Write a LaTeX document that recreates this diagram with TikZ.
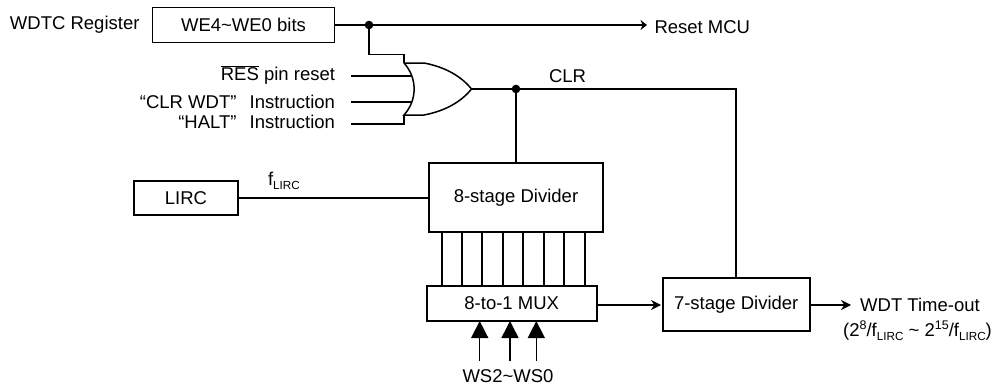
\documentclass[tikz,border=0pt]{standalone}
\usepackage{fontspec}
\setmainfont{Liberation Sans}
\usetikzlibrary{arrows.meta}
\tikzset{
  every node/.style={font=\fontsize{18.5}{20}\selectfont,inner sep=0pt,outer sep=0pt},
  wire/.style={line width=1.5pt,line cap=butt,line join=miter},
  boxn/.style={draw,line width=1.8pt,minimum height=0pt},
  flow/.style={wire,-{Stealth[length=10pt,width=10pt]}},
  flowshort/.style={wire,-{Stealth[length=6.5pt,width=10pt]}},
  sel/.style={wire,-{Triangle[length=17pt,width=17pt]}}
}
\newcommand{\subs}[1]{\raisebox{-4pt}{\fontsize{11.7}{12}\selectfont #1}}
\newcommand{\sups}[1]{\raisebox{7pt}{\fontsize{12.5}{13}\selectfont #1}}
\begin{document}
\begin{tikzpicture}[x=1pt,y=-1pt]
\useasboundingbox (0,0) rectangle (995,388);
% boxes
\node[boxn,minimum width=182pt,minimum height=35pt] (we) at (243.5,25) {WE4\char`~WE0 bits};
\node[boxn,minimum width=104.5pt,minimum height=34pt] (lirc) at (186,198) {LIRC};
\node[boxn,minimum width=174pt,minimum height=69pt] (d8) at (516,197.5) {8-stage Divider};
\node[boxn,minimum width=170pt,minimum height=35pt] (mux) at (511.7,303.2) {8-to-1 MUX};
\node[boxn,minimum width=147pt,minimum height=53pt] (d7) at (736.2,304.5) {7-stage Divider};
% labels
\node[anchor=east] (wdtc) at (139.5,25) {WDTC Register};
\node[anchor=west] (rst) at (654.5,27.5) {Reset MCU};
\node[anchor=east] (res) at (335,75) {$\overline{\mbox{RES}}$ pin reset};
\node[anchor=east] (clrw) at (335,102) {“CLR WDT”\hspace{8pt} Instruction};
\node[anchor=east] (halt) at (335,122) {“HALT”\hspace{8pt} Instruction};
\node (clrl) at (567.5,76) {CLR};
\node[anchor=west] (fl) at (268,181) {f\subs{LIRC}};
\node (ws) at (508,376) {WS2\char`~WS0};
\node (wdt) at (920,305) {WDT Time-out};
\node (form) at (917.5,331) {(2\sups{8}/f\subs{LIRC} \char`~{} 2\sups{15}/f\subs{LIRC})};
% coordinates
\coordinate (j1) at (369,25);
\coordinate (j2) at (516,89);
\coordinate (gt) at (404,63);
\coordinate (gb) at (404,115);
\coordinate (gtip) at (471.5,89);
\coordinate (rstend) at (647,25);
\coordinate (wdtend) at (851,305);
\coordinate (corner) at (736.2,89);
\coordinate (muxend) at (661,305);
% OR gate
\draw[wire] (gt) -- (424,63) .. controls (445,67) and (461,76) .. (gtip)
  .. controls (461,102) and (445,111) .. (424,115) -- (gb)
  .. controls (417.5,100) and (417.5,78) .. (gt);
% wires
\draw[wire] (we.east) -- (j1);
\draw[flowshort] (j1) -- (rstend);
\draw[wire] (j1) -- (369,54.5) -- (404,54.5) -- (gt);
\draw[wire] (351,76) -- (411,76);
\draw[wire] (351,102) -- (411,102);
\draw[wire] (351,124) -- (404,124) -- (gb);
\draw[wire] (gtip) -- (j2) -- (corner) -- (d7.north);
\draw[wire] (j2) -- (d8.north -| j2);
\draw[wire] (lirc.east) -- (d8.west |- lirc.east);
\foreach \x in {442,462,482,503,523,544,564,585}
  \draw[wire] (\x,232) -- (\x,286);
\draw[flow] (mux.east |- muxend) -- (muxend);
\draw[flow] (d7.east |- wdtend) -- (wdtend);
\foreach \x in {479.7,510,536.3}
  \draw[sel] (\x,361) -- (\x,321);
\fill (j1) circle (4.3pt);
\fill (j2) circle (4.3pt);
\end{tikzpicture}
\end{document}
